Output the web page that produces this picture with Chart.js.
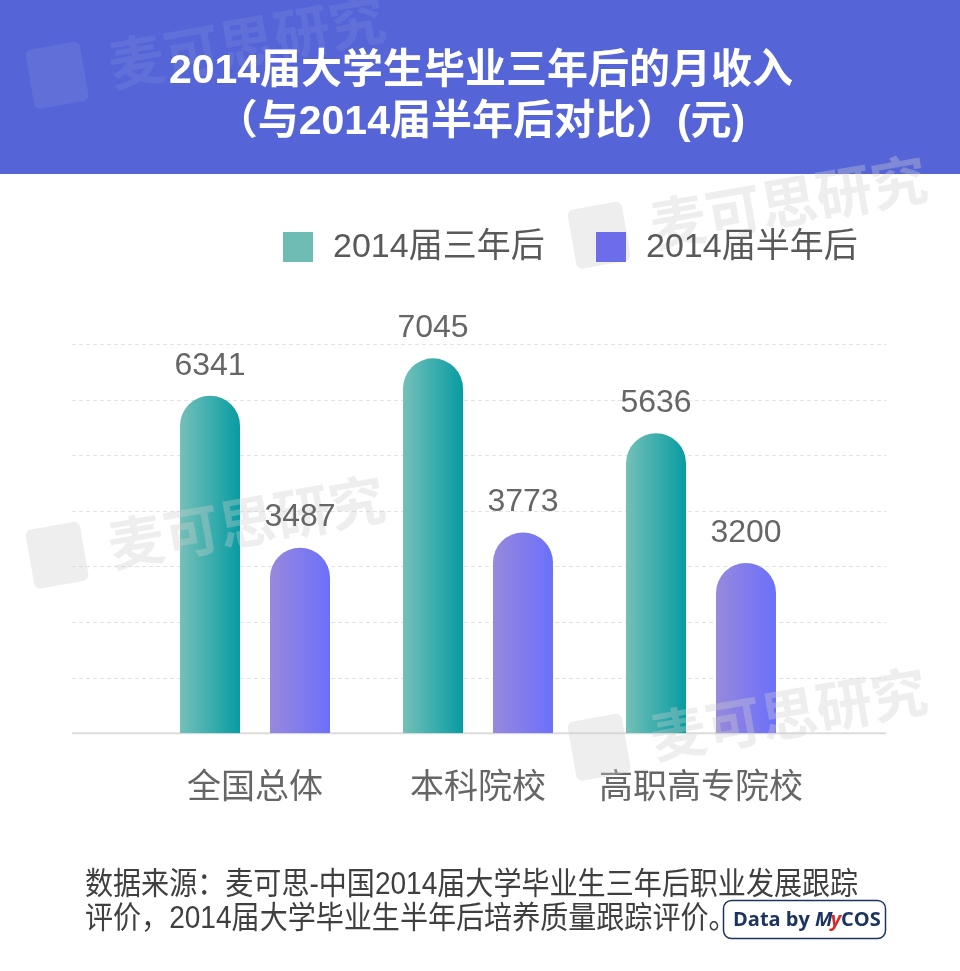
<!DOCTYPE html>
<html>
<head>
<meta charset="utf-8">
<script src="https://cdn.jsdelivr.net/npm/chart.js@4.4.0/dist/chart.umd.min.js"></script>
<style>
  html, body { margin: 0; padding: 0; background: #fff; }
</style>
</head>
<body>
<canvas id="myChart" width="960" height="971"></canvas>
<script>
var categories = ['全国总体', '本科院校', '高职高专院校'];
var threeYears = [6341, 7045, 5636];
var halfYear = [3487, 3773, 3200];
var seriesNames = ['2014届三年后', '2014届半年后'];
var titleLines = ['2014届大学生毕业三年后的月收入', '（与2014届半年后对比）(元)'];
var sourceLines = ['数据来源：麦可思-中国2014届大学毕业生三年后职业发展跟踪', '评价，2014届大学毕业生半年后培养质量跟踪评价。'];
var yMax = 7315;
var yStep = 1045;

var FONT = '"Liberation Sans", "Noto Sans CJK SC", sans-serif';
var barColors = [['#74c0b8', '#079ca3'], ['#9889dc', '#6b70fb']];
var swatchColors = ['#6fbcb4', '#6d6ceb'];
var legendX = [283, 596];

function roundRect(ctx, x, y, w, h, r) {
  ctx.beginPath();
  ctx.moveTo(x + r, y);
  ctx.arcTo(x + w, y, x + w, y + h, r);
  ctx.arcTo(x + w, y + h, x, y + h, r);
  ctx.arcTo(x, y + h, x, y, r);
  ctx.arcTo(x, y, x + w, y, r);
  ctx.closePath();
}

function watermark(ctx, x, y, color) {
  ctx.save();
  ctx.translate(x, y);
  ctx.rotate(-0.175);
  ctx.fillStyle = color;
  roundRect(ctx, 0, -30, 55, 60, 6);
  ctx.fill();
  ctx.font = 'bold 56px "Noto Sans CJK SC"';
  ctx.textBaseline = 'middle';
  ctx.textAlign = 'left';
  ctx.fillText('麦可思研究', 80, 0);
  ctx.restore();
}

// background, header band, title
var pagePlugin = {
  id: 'page',
  beforeDraw: function (chart) {
    var ctx = chart.ctx;
    ctx.save();
    ctx.fillStyle = '#ffffff';
    ctx.fillRect(0, 0, chart.width, chart.height);
    ctx.fillStyle = '#5565d7';
    ctx.fillRect(0, 0, chart.width, 174);
    watermark(ctx, 30, 80, 'rgba(255,255,255,0.07)');
    ctx.fillStyle = '#ffffff';
    ctx.font = 'bold 41px ' + FONT;
    ctx.textAlign = 'center';
    ctx.textBaseline = 'middle';
    ctx.fillText(titleLines[0], 481, 72);
    ctx.fillText(titleLines[1], 481, 123);
    ctx.restore();
  }
};

// dashed grid lines wider than the plot area
var gridPlugin = {
  id: 'grid',
  beforeDatasetsDraw: function (chart) {
    var ctx = chart.ctx, y = chart.scales.y;
    ctx.save();
    ctx.strokeStyle = '#e3e3e3';
    ctx.lineWidth = 1;
    ctx.setLineDash([4, 3]);
    for (var v = yStep; v <= yMax + 1; v += yStep) {
      var py = Math.round(y.getPixelForValue(v)) + 0.5;
      ctx.beginPath();
      ctx.moveTo(72, py);
      ctx.lineTo(886, py);
      ctx.stroke();
    }
    ctx.setLineDash([]);
    ctx.strokeStyle = '#dcdcdc';
    ctx.lineWidth = 2;
    var by = y.getPixelForValue(0);
    ctx.beginPath();
    ctx.moveTo(72, by);
    ctx.lineTo(886, by);
    ctx.stroke();
    ctx.restore();

    // horizontal gradient per bar
    chart.data.datasets.forEach(function (ds, i) {
      chart.getDatasetMeta(i).data.forEach(function (el) {
        var g = ctx.createLinearGradient(el.x - el.width / 2, 0, el.x + el.width / 2, 0);
        g.addColorStop(0, barColors[i][0]);
        g.addColorStop(1, barColors[i][1]);
        el.options = Object.assign({}, el.options, { backgroundColor: g });
      });
    });
  }
};

// watermarks, value labels, legend, footer
var labelPlugin = {
  id: 'labels',
  afterDatasetsDraw: function (chart) {
    var ctx = chart.ctx;
    ctx.save();
    var wm = 'rgba(205,205,205,0.35)';
    watermark(ctx, 572, 240, wm);
    watermark(ctx, 30, 560, wm);
    watermark(ctx, 572, 752, wm);

    ctx.fillStyle = '#666666';
    ctx.font = '32px ' + FONT;
    ctx.textAlign = 'center';
    ctx.textBaseline = 'middle';
    chart.data.datasets.forEach(function (ds, i) {
      chart.getDatasetMeta(i).data.forEach(function (el, j) {
        ctx.fillText(String(ds.data[j]), el.x, el.y - 30);
      });
    });

    // legend
    ctx.font = '34px ' + FONT;
    ctx.textAlign = 'left';
    chart.data.datasets.forEach(function (ds, i) {
      ctx.fillStyle = swatchColors[i];
      ctx.fillRect(legendX[i], 232, 30, 30);
      ctx.fillStyle = '#595959';
      ctx.fillText(ds.label, legendX[i] + 50, 248);
    });
    ctx.restore();
  },
  afterDraw: function (chart) {
    var ctx = chart.ctx;
    ctx.save();
    ctx.fillStyle = '#3f3f3f';
    ctx.textBaseline = 'middle';
    ctx.textAlign = 'left';
    ctx.font = '31px ' + FONT;
    ctx.save();
    ctx.translate(85, 0);
    ctx.scale(0.905, 1);
    ctx.fillText(sourceLines[0], 0, 885);
    ctx.fillText(sourceLines[1], 0, 919);
    ctx.restore();

    // badge
    ctx.strokeStyle = '#1e3460';
    ctx.lineWidth = 1.5;
    roundRect(ctx, 723.5, 900.5, 162, 38, 8);
    ctx.fillStyle = '#ffffff';
    ctx.fill();
    ctx.stroke();
    var bx = 733, byy = 920;
    ctx.font = 'bold 20px "Open Sans", ' + FONT;
    ctx.fillStyle = '#1e3460';
    ctx.fillText('Data by ', bx, byy);
    bx += ctx.measureText('Data by ').width;
    ctx.font = 'italic bold 20px "Open Sans", ' + FONT;
    ctx.fillText('M', bx, byy);
    bx += ctx.measureText('M').width - 2;
    ctx.fillStyle = '#d42b2b';
    ctx.fillText('y', bx, byy);
    bx += ctx.measureText('y').width;
    ctx.fillStyle = '#1e3460';
    ctx.font = 'bold 20px "Open Sans", ' + FONT;
    ctx.fillText('COS', bx, byy);
    ctx.restore();
  }
};

var myChart = new Chart(document.getElementById('myChart').getContext('2d'), {
  type: 'bar',
  data: {
    labels: categories,
    datasets: [{
      label: seriesNames[0],
      data: threeYears,
      backgroundColor: swatchColors[0],
      borderRadius: { topLeft: 30, topRight: 30, bottomLeft: 0, bottomRight: 0 },
      borderSkipped: false
    }, {
      label: seriesNames[1],
      data: halfYear,
      backgroundColor: swatchColors[1],
      borderRadius: { topLeft: 30, topRight: 30, bottomLeft: 0, bottomRight: 0 },
      borderSkipped: false
    }]
  },
  options: {
    responsive: false,
    animation: false,
    devicePixelRatio: 1,
    categoryPercentage: 0.807,
    barPercentage: 0.6667,
    layout: { padding: { left: 143.5, right: 147.5, top: 344, bottom: 135 } },
    plugins: {
      legend: { display: false },
      title: { display: false },
      tooltip: { enabled: false }
    },
    scales: {
      x: {
        grid: { display: false },
        border: { display: false },
        ticks: { padding: 27, color: '#666666', font: { family: FONT, size: 34 } }
      },
      y: {
        display: false,
        min: 0,
        max: yMax
      }
    }
  },
  plugins: [pagePlugin, gridPlugin, labelPlugin]
});
</script>
</body>
</html>
